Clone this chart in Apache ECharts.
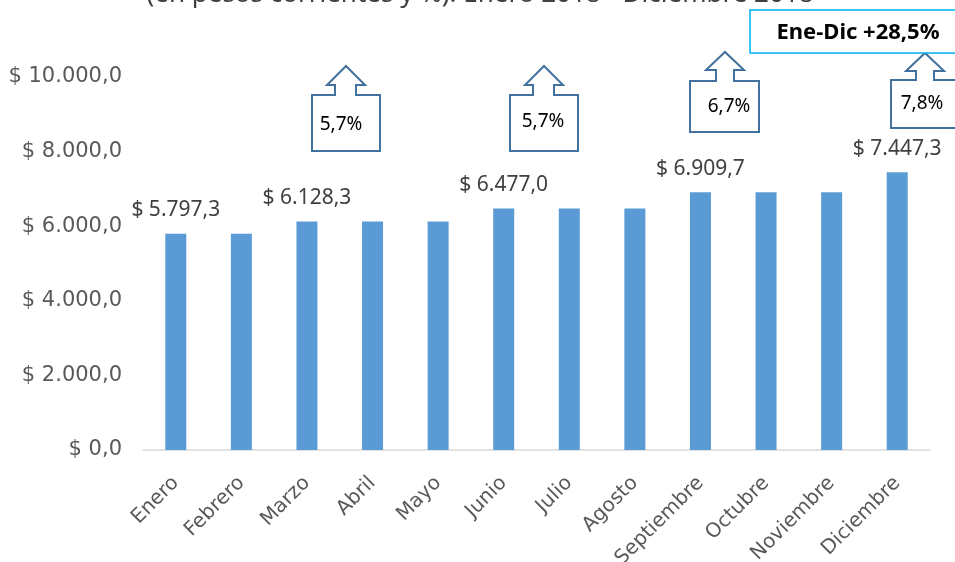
<!DOCTYPE html>
<html>
<head>
<meta charset="utf-8">
<script src="https://cdn.jsdelivr.net/npm/echarts@6/dist/echarts.min.js"></script>
<style>
  html, body { margin: 0; padding: 0; background: #fff; }
  #chart { width: 955px; height: 562px; }
</style>
</head>
<body>
<div id="chart"></div>
<script>
// meses
let meses = ['Enero', 'Febrero', 'Marzo', 'Abril', 'Mayo', 'Junio', 'Julio', 'Agosto', 'Septiembre', 'Octubre', 'Noviembre', 'Diciembre'];
// valores (pesos corrientes)
let valores = [5797.3, 5797.3, 6128.3, 6128.3, 6128.3, 6477.0, 6477.0, 6477.0, 6909.7, 6909.7, 6909.7, 7447.3];
// meses con etiqueta de valor
let conEtiqueta = [0, 2, 5, 8, 11];
// aumentos
let aumentos = ['5,7%', '5,7%', '6,7%', '7,8%'];
let totalAnual = 'Ene-Dic +28,5%';
let subtitulo = '(en pesos corrientes y %). Enero 2018 - Diciembre 2018';

let myChart = echarts.init(document.getElementById('chart'));

// formato $ 1.234,5
function pesos(v) {
    let s = Number(v).toFixed(1).split('.');
    let ent = s[0].replace(/\B(?=(\d{3})+(?!\d))/g, '.');
    return '$ ' + ent + ',' + s[1];
}

// flecha con caja (callout)
function flecha(c, texto) {
    let pts = [
        [c.l, c.b], [c.l, c.t], [c.sl, c.t], [c.sl, c.hy], [c.hl, c.hy],
        [c.tx, c.ty], [c.hr, c.hy], [c.sr, c.hy], [c.sr, c.t], [c.r, c.t], [c.r, c.b]
    ];
    return [
        {
            type: 'polygon',
            shape: { points: pts },
            style: { fill: '#fff', stroke: '#41719C', lineWidth: 2 }
        },
        {
            type: 'text',
            x: c.txtX, y: c.txtY,
            style: {
                text: texto, fill: '#000', fontFamily: 'Noto Sans', fontSize: 19,
                align: 'center', verticalAlign: 'middle'
            }
        }
    ];
}

let cajas = [
    { l: 312, r: 380, t: 95, b: 151, sl: 335, sr: 356, hy: 85, hl: 327, hr: 365, tx: 346, ty: 66, txtX: 341, txtY: 125 },
    { l: 510, r: 578, t: 95, b: 151, sl: 533, sr: 554, hy: 85, hl: 525, hr: 563, tx: 544, ty: 66, txtX: 543, txtY: 122 },
    { l: 690, r: 759, t: 81, b: 132, sl: 716, sr: 734, hy: 70, hl: 706, hr: 744, tx: 725, ty: 52, txtX: 729, txtY: 107 },
    { l: 891, r: 975, t: 80, b: 128, sl: 916, sr: 934, hy: 71, hl: 906, hr: 944, tx: 925, ty: 53, txtX: 922, txtY: 104 }
];

let graficos = [];
cajas.forEach(function (c, i) {
    graficos = graficos.concat(flecha(c, aumentos[i]));
});
graficos.push({
    type: 'rect',
    shape: { x: 750, y: 10, width: 215, height: 43 },
    style: { fill: '#fff', stroke: '#00B0F0', lineWidth: 1.5 }
});
graficos.push({
    type: 'text',
    x: 858, y: 33,
    style: {
        text: totalAnual, fill: '#000', fontFamily: 'Noto Sans', fontWeight: 'bold', fontSize: 22,
        align: 'center', verticalAlign: 'middle'
    }
});
graficos.push({
    type: 'text',
    x: 480, y: 8,
    style: {
        text: subtitulo, fill: '#404040', fontFamily: 'Noto Sans', fontSize: 26,
        align: 'center', verticalAlign: 'bottom'
    }
});

let datos = valores.map(function (v, i) {
    return {
        value: v,
        label: { show: conEtiqueta.indexOf(i) >= 0 }
    };
});

let option = {
    animation: false,
    grid: {
        left: 143,
        right: 25,
        top: 77,
        bottom: 112,
        outerBoundsMode: 'none'
    },
    xAxis: {
        type: 'category',
        data: meses,
        axisLine: { lineStyle: { color: '#D9D9D9', width: 1.5 } },
        axisTick: { show: false },
        axisLabel: {
            rotate: 45,
            interval: 0,
            margin: 30,
            color: '#595959',
            fontFamily: 'DejaVu Sans',
            fontSize: 20
        }
    },
    yAxis: {
        type: 'value',
        min: 0,
        max: 10000,
        interval: 2000,
        splitLine: { show: false },
        axisLine: { show: false },
        axisTick: { show: false },
        axisLabel: {
            margin: 21,
            color: '#595959',
            fontFamily: 'DejaVu Sans',
            fontSize: 21,
            formatter: pesos
        }
    },
    series: [{
        type: 'bar',
        data: datos,
        barWidth: 21,
        itemStyle: { color: '#5B9BD5' },
        label: {
            position: 'top',
            distance: 13,
            color: '#404040',
            fontFamily: 'Noto Sans',
            fontSize: 21,
            formatter: function (p) { return pesos(p.value); }
        }
    }],
    graphic: graficos
};

myChart.setOption(option);
</script>
</body>
</html>
